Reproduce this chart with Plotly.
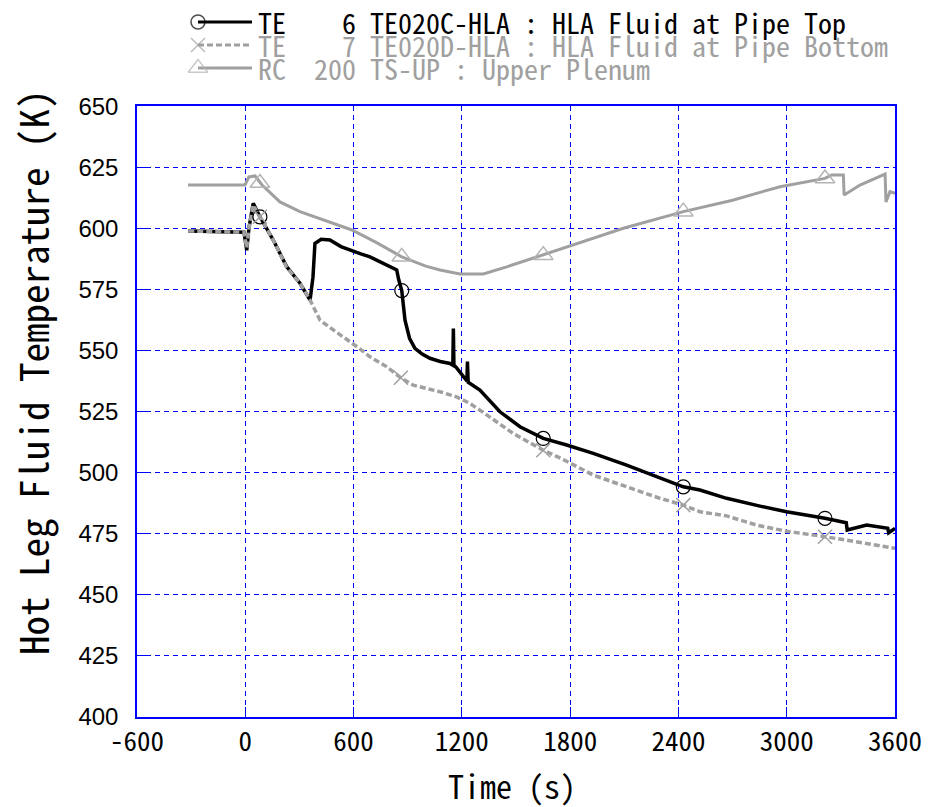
import plotly.graph_objects as go

# ---------------- data ----------------
top_t = [-316, -200, -100, -7, 8, 20, 44, 81, 155, 229, 303, 359, 375, 386, 420, 469, 530, 580,
         640, 691, 760, 839, 850, 867, 885, 910, 940, 980, 1023, 1080, 1134, 1150, 1153, 1156,
         1170, 1208, 1228, 1231, 1235, 1300, 1411, 1522, 1651, 1781, 1928, 2113, 2298, 2427,
         2519, 2667, 2852, 2999, 3212, 3330, 3335, 3443, 3560, 3565, 3600]
top_T = [598.9, 598.7, 598.5, 598.4, 591.0, 600.0, 610.2, 604.7, 595.2, 584.3, 577.5, 570.6, 580.0,
         593.8, 595.5, 595.2, 592.5, 591.0, 589.5, 588.3, 586.0, 583.0, 579.0, 574.5, 562.4, 555.0,
         550.9, 548.5, 546.8, 545.5, 544.7, 544.0, 559.0, 544.0, 543.0, 539.3, 537.5, 545.5, 537.0,
         533.8, 524.9, 518.8, 514.0, 511.3, 507.9, 503.1, 497.7, 494.2, 492.9, 489.5, 486.3, 484.0,
         481.3, 479.5, 476.5, 478.6, 477.2, 475.4, 477.2]

bot_t = [-316, -200, -100, -7, 8, 20, 44, 81, 155, 229, 303, 359, 414, 480, 543, 620, 691, 780,
         862, 931, 1000, 1079, 1171, 1240, 1300, 1390, 1485, 1570, 1651, 1750, 1928, 2113, 2298,
         2427, 2519, 2667, 2834, 2999, 3212, 3443, 3600]
bot_T = [598.9, 598.7, 598.5, 598.4, 592.0, 600.0, 609.5, 604.7, 595.2, 584.0, 577.5, 570.6, 562.4,
         558.8, 555.6, 551.5, 547.4, 543.5, 538.8, 535.8, 534.5, 533.1, 531.0, 528.5, 525.6, 520.8,
         516.0, 512.5, 509.2, 505.8, 499.0, 494.2, 489.5, 486.7, 484.0, 482.3, 478.5, 476.0, 473.8,
         471.0, 469.0]

up_t = [-317, -2, 20, 54, 93, 192, 303, 450, 591, 730, 867, 1000, 1079, 1190, 1319, 1448, 1646,
        1795, 2095, 2427, 2700, 2852, 2963, 3212, 3249, 3314, 3318, 3406, 3545, 3550, 3572, 3600]
up_T = [617.7, 617.7, 621.0, 621.4, 617.7, 610.8, 606.8, 603.0, 599.3, 594.0, 588.3, 584.5, 582.9,
        581.3, 581.3, 584.2, 589.0, 592.7, 600.0, 606.8, 611.5, 614.7, 617.0, 620.4, 621.8, 621.8,
        613.6, 617.7, 622.2, 610.8, 615.0, 614.3]

# marker positions
top_mk_t = [81, 867, 1651, 2427, 3212]
top_mk_T = [604.7, 574.5, 514.0, 494.2, 481.3]
bot_mk_t = [81, 862, 1651, 2427, 3212]
bot_mk_T = [604.7, 538.8, 509.2, 486.7, 473.8]
up_mk_t = [81, 867, 1651, 2427, 3212]
up_mk_T = [618.5, 588.3, 589.0, 606.8, 620.4]

x_ticks = [-600, 0, 600, 1200, 1800, 2400, 3000, 3600]
y_ticks = [400, 425, 450, 475, 500, 525, 550, 575, 600, 625, 650]

names = ["TE    6 TE020C-HLA : HLA Fluid at Pipe Top",
         "TE    7 TE020D-HLA : HLA Fluid at Pipe Bottom",
         "RC  200 TS-UP : Upper Plenum"]
x_title = "Time (s)"
y_title = "Hot Leg Fluid Temperature (K)"

BLACK = "#000000"
GRAY = "#a0a0a0"
BLUE = "#0000ff"
MONO = "Noto Sans Mono CJK JP, DejaVu Sans Mono, monospace"

fig = go.Figure()

# data lines
fig.add_trace(go.Scatter(x=top_t, y=top_T, mode="lines", line=dict(color=BLACK, width=3.5),
                         showlegend=False))
fig.add_trace(go.Scatter(x=bot_t, y=bot_T, mode="lines",
                         line=dict(color=GRAY, width=3.5, dash="6px,3px"), showlegend=False))
fig.add_trace(go.Scatter(x=up_t, y=up_T, mode="lines", line=dict(color=GRAY, width=3),
                         showlegend=False))
# markers
fig.add_trace(go.Scatter(x=top_mk_t, y=top_mk_T, mode="markers", showlegend=False,
                         marker=dict(symbol="circle-open", size=14, color=BLACK,
                                     line=dict(width=1.2, color=BLACK))))
fig.add_trace(go.Scatter(x=bot_mk_t, y=bot_mk_T, mode="markers", showlegend=False,
                         marker=dict(symbol="x-thin-open", size=14, color=GRAY,
                                     line=dict(width=1.5, color=GRAY))))
fig.add_trace(go.Scatter(x=up_mk_t, y=up_mk_T, mode="markers", showlegend=False,
                         marker=dict(symbol="triangle-up-open", size=17, color="#b4b4b4",
                                     line=dict(width=1.5, color="#b4b4b4"))))

# legend (drawn on a helper axis placed in the top band, units = pixels)
leg_rows = [22, 45, 68]
leg_styles = [
    (BLACK, "solid", "circle-open", 14, BLACK),
    (GRAY, "6px,3px", "x-thin-open", 14, GRAY),
    (GRAY, "solid", "triangle-up-open", 17, "#b4b4b4"),
]
for row, (lc, dash, sym, sz, mc), nm in zip(leg_rows, leg_styles, names):
    fig.add_trace(go.Scatter(x=[198, 252], y=[row, row], mode="lines+markers", xaxis="x2",
                             yaxis="y2", showlegend=False, line=dict(color=lc, width=3, dash=dash),
                             marker=dict(symbol=sym, size=[sz, 0], color=mc,
                                         line=dict(width=1.5, color=mc))))
    fig.add_annotation(x=256, y=row, xref="x2", yref="y2", xanchor="left", yanchor="middle",
                       text=nm.replace(" ", "\u00a0"), showarrow=False,
                       font=dict(family=MONO, size=28, color=lc))

# axis titles
fig.add_annotation(x=(512 - 137) / 758, y=(717 - 785) / 712, xref="paper", yref="paper",
                   xanchor="center", yanchor="middle", showarrow=False,
                   text=x_title.replace(" ", "\u00a0"), font=dict(family=MONO, size=32, color=BLACK))
fig.add_annotation(x=(32 - 137) / 758, y=(717 - 372) / 712, xref="paper", yref="paper",
                   xanchor="center", yanchor="middle", showarrow=False, textangle=-90,
                   text=y_title.replace(" ", "\u00a0"), font=dict(family=MONO, size=39, color=BLACK))

axis_common = dict(showline=True, linecolor=BLUE, linewidth=1.5, mirror=True,
                   showgrid=True, gridcolor=BLUE, gridwidth=1, griddash="5px,4px",
                   ticks="inside", ticklen=10, tickcolor=BLUE, zeroline=False, automargin=False)

fig.update_layout(
    width=929, height=807,
    margin=dict(l=137, r=34, t=5, b=90, autoexpand=False),
    paper_bgcolor="white", plot_bgcolor="white",
    showlegend=False,
    xaxis=dict(range=[-600, 3600], tickvals=x_ticks,
               ticktext=[str(v) for v in x_ticks],
               tickfont=dict(family=MONO, size=27, color=BLACK),
               **axis_common),
    yaxis=dict(range=[400, 650], tickvals=y_ticks, domain=[0, 0.858], ticklabelstandoff=12,
               tickfont=dict(family="Liberation Sans, Arial", size=24, color=BLACK),
               **axis_common),
    xaxis2=dict(domain=[0, 1], range=[137, 895], visible=False, anchor="y2", fixedrange=True,
                automargin=False),
    yaxis2=dict(domain=[0.865, 1], range=[101.1, 5], visible=False, anchor="x2", fixedrange=True,
                automargin=False),
)

fig.write_html("out.html", config={"displayModeBar": False},
               post_script="document.body.style.margin='0';")
